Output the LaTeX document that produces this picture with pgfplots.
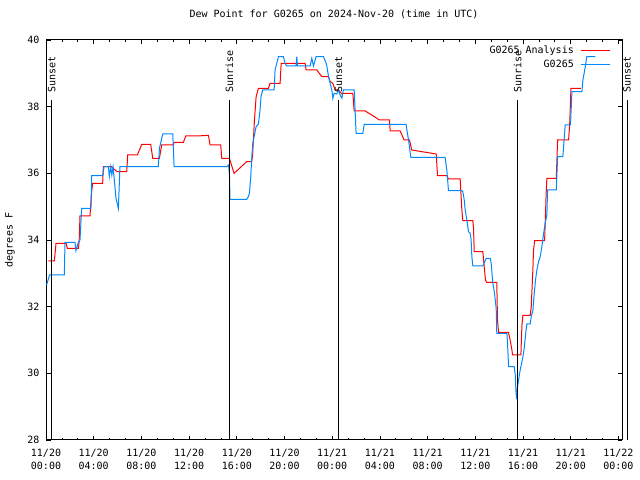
\documentclass[border=0pt]{standalone}
\usepackage{pgfplots}
\pgfplotsset{compat=1.18}
\usepackage{fontspec}
\setmainfont{DejaVu Sans Mono}
\definecolor{gpred}{RGB}{255,0,0}
\definecolor{gpblue}{RGB}{0,136,255}
\newcommand{\gpfont}{\fontsize{10bp}{12.5bp}\selectfont}
\begin{document}
\begin{tikzpicture}
\useasboundingbox (0,0) rectangle (640bp,480bp);
\begin{axis}[
  at={(46bp,40bp)}, anchor=south west,
  scale only axis, width=576bp, height=400bp,
  xmin=0, xmax=48.3, ymin=28, ymax=40,
  clip=false,
  xtick={0,4,...,48},
  xticklabels={{11/20\\00:00},{11/20\\04:00},{11/20\\08:00},{11/20\\12:00},{11/20\\16:00},{11/20\\20:00},{11/21\\00:00},{11/21\\04:00},{11/21\\08:00},{11/21\\12:00},{11/21\\16:00},{11/21\\20:00},{11/22\\00:00}},
  minor x tick num=2,
  ytick={28,30,...,40},
  /pgf/number format/assume math mode=true,
  tick align=inside,
  major tick length=4.5bp, minor tick length=2.5bp,
  tick style={black, line width=0.8bp},
  axis line style={black, line width=1bp},
  xticklabel style={align=center, font=\gpfont, yshift=-6bp},
  yticklabel style={font=\gpfont, xshift=-3bp},
  title={Dew Point for G0265 on 2024-Nov-20 (time in UTC)},
  title style={font=\gpfont, at={(0.5,1)}, anchor=base, yshift=17bp},
  ylabel={degrees F},
  ylabel style={font=\gpfont, at={(axis description cs:-0.0625,0.5)}, anchor=center, rotate=0},
  legend style={at={(1,1)}, anchor=north east, xshift=-10bp, yshift=-3bp, draw=none, fill=none, font=\gpfont, row sep=1bp, inner sep=1bp, /tikz/column sep=5bp},
  legend cell align=right,
  legend plot pos=right,
  legend image code/.code={\draw[#1] (0bp,0bp) -- (29bp,0bp);},
]
\addplot[gpred, line width=1bp] coordinates {
(0.2,33.37) (0.7,33.37) (0.84,33.9) (1.68,33.9) (1.79,33.75) (2.71,33.75) (2.78,33.95) (2.85,34.72) (3.69,34.72) (3.83,35.45) (3.91,35.7) (4.75,35.7) (4.81,36.2) (5.5,36.2) (5.79,36.1) (5.98,36.05) (6.77,36.05) (6.85,36.55) (7.66,36.55) (8.03,36.87) (8.78,36.87) (8.95,36.45) (9.51,36.45) (9.70,36.85) (10.68,36.85) (10.74,36.93) (11.52,36.93) (11.72,37.12) (12.64,37.12) (13.62,37.14) (13.76,36.85) (14.65,36.85) (14.74,36.45) (15.38,36.45) (15.77,36.0) (16.83,36.35) (17.24,36.35) (17.32,36.52) (17.48,37.6) (17.62,38.3) (17.81,38.55) (18.65,38.55) (18.79,38.7) (19.63,38.7) (19.72,39.3) (21.73,39.3) (21.81,39.1) (22.71,39.1) (23.13,38.9) (23.69,38.9) (23.83,38.75) (24.05,38.7) (24.25,38.5) (24.53,38.5) (24.81,38.38) (24.89,38.4) (25.73,38.4) (25.84,37.87) (26.76,37.87) (27.46,37.72) (27.96,37.6) (28.80,37.6) (28.86,37.27) (29.70,37.27) (30.03,37.0) (30.48,37.0) (30.67,36.7) (31.52,36.65) (32.72,36.58) (32.83,35.93) (33.61,35.93) (33.75,35.83) (34.73,35.83) (34.87,34.9) (34.95,34.58) (35.79,34.58) (35.85,34.35) (35.91,33.65) (36.63,33.65) (36.74,33.22) (36.85,32.8) (36.96,32.73) (37.80,32.73) (37.86,31.6) (37.95,31.23) (38.78,31.23) (38.92,31.0) (39.07,30.7) (39.12,30.55) (39.82,30.55) (39.91,31.45) (39.99,31.74) (40.60,31.74) (40.69,32.0) (40.83,33.15) (40.88,33.68) (40.97,33.98) (41.81,33.98) (41.86,34.5) (41.94,35.4) (42.0,35.85) (42.79,35.85) (42.90,37.0) (43.82,37.0) (43.91,37.45) (44.02,38.55) (44.85,38.55)
};
\addlegendentry{G0265 Analysis}
\addplot[gpblue, line width=1bp] coordinates {
(0.05,32.65) (0.3,32.95) (1.54,32.95) (1.59,33.93) (2.43,33.93) (2.51,33.68) (2.71,33.93) (2.85,34.0) (2.99,34.95) (3.77,34.95) (3.83,35.93) (4.75,35.93) (4.87,36.2) (5.23,36.2) (5.31,35.9) (5.43,36.2) (5.52,35.95) (5.62,36.2) (5.73,35.8) (5.87,35.25) (6.07,34.95) (6.2,36.2) (9.42,36.2) (9.51,36.75) (9.79,37.18) (10.63,37.18) (10.74,36.2) (15.16,36.2) (15.3,36.25) (15.38,36.0) (15.43,35.22) (16.83,35.22) (16.97,35.3) (17.06,35.4) (17.17,35.9) (17.26,36.5) (17.34,36.9) (17.45,37.1) (17.62,37.4) (17.81,37.48) (17.95,37.9) (18.03,38.3) (18.17,38.5) (19.13,38.5) (19.21,39.1) (19.49,39.5) (19.91,39.5) (20.05,39.3) (20.19,39.22) (20.97,39.22) (21.03,39.5) (21.09,39.22) (22.15,39.22) (22.29,39.45) (22.43,39.22) (22.65,39.5) (23.27,39.5) (23.49,39.3) (23.55,39.22) (23.69,38.9) (23.83,38.7) (23.97,38.5) (24.05,38.25) (24.16,38.4) (24.38,38.38) (24.53,38.5) (24.66,38.35) (24.81,38.25) (24.94,38.5) (25.84,38.5) (25.92,37.9) (26.0,37.2) (26.57,37.2) (26.68,37.47) (30.2,37.47) (30.26,37.3) (30.4,37.0) (30.59,36.48) (33.47,36.48) (33.61,36.1) (33.75,35.48) (34.87,35.48) (34.95,35.45) (35.07,35.2) (35.15,34.9) (35.29,34.6) (35.43,34.25) (35.57,34.2) (35.65,34.0) (35.71,33.5) (35.79,33.22) (36.63,33.22) (36.83,33.38) (36.91,33.45) (37.25,33.45) (37.33,33.3) (37.47,32.7) (37.61,32.4) (37.75,31.95) (37.80,31.2) (38.65,31.2) (38.70,30.9) (38.79,30.2) (39.26,30.2) (39.35,29.95) (39.40,29.5) (39.46,29.22) (39.54,29.6) (39.65,29.85) (39.76,30.1) (39.91,30.35) (40.04,30.6) (40.13,30.85) (40.24,31.25) (40.32,31.48) (40.60,31.48) (40.69,31.7) (40.83,31.9) (40.94,32.4) (41.05,32.8) (41.16,33.1) (41.30,33.35) (41.44,33.5) (41.58,33.8) (41.67,34.05) (41.78,34.32) (41.86,34.5) (42.0,34.75) (42.06,35.5) (42.79,35.5) (42.90,36.5) (43.34,36.5) (43.54,37.45) (43.98,37.45) (44.1,38.45) (44.94,38.45) (45.02,38.8) (45.2,39.15) (45.35,39.5) (46.06,39.5)
};
\addlegendentry{G0265}
\addplot[black, line width=1bp, forget plot] coordinates {(0.48,28) (0.48,38.2)};
\addplot[black, line width=1bp, forget plot] coordinates {(15.38,28) (15.38,38.2)};
\addplot[black, line width=1bp, forget plot] coordinates {(24.52,28) (24.52,38.2)};
\addplot[black, line width=1bp, forget plot] coordinates {(39.54,28) (39.54,38.2)};
\addplot[black, line width=1bp, forget plot] coordinates {(48.72,28) (48.72,38.2)};
\node[rotate=90, anchor=west, inner sep=0pt, font=\gpfont] at (axis cs:0.48,38.42) {Sunset};
\node[rotate=90, anchor=west, inner sep=0pt, font=\gpfont] at (axis cs:15.38,38.42) {Sunrise};
\node[rotate=90, anchor=west, inner sep=0pt, font=\gpfont] at (axis cs:24.52,38.42) {Sunset};
\node[rotate=90, anchor=west, inner sep=0pt, font=\gpfont] at (axis cs:39.54,38.42) {Sunrise};
\node[rotate=90, anchor=west, inner sep=0pt, font=\gpfont] at (axis cs:48.72,38.42) {Sunset};
\end{axis}
\end{tikzpicture}
\end{document}
